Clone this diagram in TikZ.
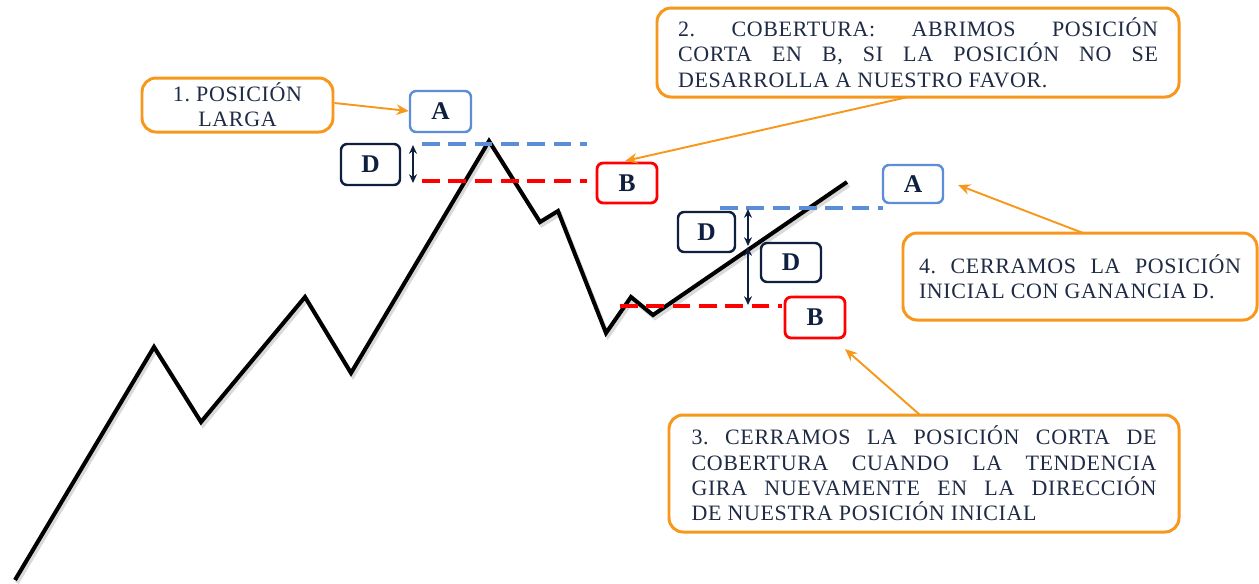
\documentclass[tikz,border=0pt]{standalone}
\usepackage{fontspec}
\setmainfont{Liberation Serif}
\newfontfamily\notefont[LetterSpace=3]{Liberation Serif}
\usetikzlibrary{arrows.meta}
\definecolor{txt}{HTML}{1F2A44}
\definecolor{navy}{HTML}{0F1F3F}
\definecolor{orng}{HTML}{F7981D}
\definecolor{bl}{HTML}{5B8ED6}
\definecolor{rd}{HTML}{FF0000}
\tikzset{
  note/.style={draw=orng, line width=1.7pt, rounded corners=8pt, fill=white, text=txt,
    font=\notefont\fontsize{12.5}{14.4}\selectfont\frenchspacing, inner sep=0pt, align=justify},
  letter/.style={line width=1.4pt, rounded corners=3.5pt, fill=white, text=navy,
    font=\fontsize{14.5}{16}\selectfont\bfseries, inner sep=0pt},
  abox/.style={letter, draw=bl},
  bbox/.style={letter, draw=rd, line width=1.6pt},
  dbox/.style={letter, draw=navy},
  callout/.style={draw=orng, line width=1.1pt, -{Stealth[length=7pt,width=6pt]}},
  price/.style={line width=2.3pt, line join=miter, black},
  bluedash/.style={draw=bl, line width=2.3pt, dash pattern=on 10pt off 5pt},
  reddash/.style={draw=rd, line width=2.3pt, dash pattern=on 10pt off 5pt},
  gap/.style={draw=navy, line width=0.8pt, {Stealth[length=5pt,width=4.5pt]}-{Stealth[length=5pt,width=4.5pt]}}
}
\begin{document}
\begin{tikzpicture}[x=0.02cm,y=-0.02cm]
\useasboundingbox (0,0) rectangle (1259,583);
% price path with subtle shadow
\draw[price, draw=black!25, opacity=0.6, shift={(2,3)}] (15,580) -- (154,347) -- (201,422) -- (305,297) -- (351,373) -- (489,141) -- (540,222) -- (558,211) -- (606,333) -- (631,297) -- (653,315) -- (847,182);
\draw[price] (15,580) -- (154,347) -- (201,422) -- (305,297) -- (351,373) -- (489,141) -- (540,222) -- (558,211) -- (606,333) -- (631,297) -- (653,315) -- (847,182);
% levels
\draw[bluedash] (422,144) -- (587,144);
\draw[reddash] (422,181) -- (587,181);
\draw[bluedash] (720,208) -- (883,208);
\draw[reddash] (620,306) -- (782,306);
% gap arrows
\coordinate (g1t) at (413,145);
\coordinate (g1b) at (413,183);
\coordinate (g2t) at (748,209);
\coordinate (g2b) at (748,246);
\coordinate (g3t) at (748,247);
\coordinate (g3b) at (748,305);
\draw[gap] (g1t) -- (g1b);
\draw[gap] (g2t) -- (g2b);
\draw[gap] (g3t) -- (g3b);
% letter boxes
\node[abox, minimum width=61*0.02cm, minimum height=41*0.02cm] (A1) at (440.5,111.5) {A};
\node[dbox, minimum width=59*0.02cm, minimum height=41*0.02cm] (D1) at (370.5,164.5) {D};
\node[bbox, minimum width=60*0.02cm, minimum height=40*0.02cm] (B1) at (627,183) {B};
\node[abox, minimum width=60*0.02cm, minimum height=38*0.02cm] (A2) at (913,184) {A};
\node[dbox, minimum width=57*0.02cm, minimum height=40*0.02cm] (D2) at (706.5,232) {D};
\node[dbox, minimum width=60*0.02cm, minimum height=39*0.02cm] (D3) at (791,262.5) {D};
\node[bbox, minimum width=60*0.02cm, minimum height=41*0.02cm] (B2) at (815,317.5) {B};
% notes
\node[note, align=center, minimum width=191*0.02cm, minimum height=54*0.02cm] (n1) at (237.5,105) {1. POSICIÓN\\LARGA};
\node[note, minimum width=522*0.02cm, minimum height=89*0.02cm, text width=480*0.02cm] (n2) at (918,52.5)
  {2. COBERTURA: ABRIMOS POSICIÓN\linebreak CORTA EN B, SI LA POSICIÓN NO SE\linebreak DESARROLLA A NUESTRO FAVOR.};
\node[note, minimum width=510*0.02cm, minimum height=117*0.02cm, text width=465*0.02cm] (n3) at (924,473.5)
  {3. CERRAMOS LA POSICIÓN CORTA DE\linebreak COBERTURA CUANDO LA TENDENCIA\linebreak GIRA NUEVAMENTE EN LA DIRECCIÓN\linebreak DE NUESTRA POSICIÓN INICIAL};
\node[note, minimum width=354*0.02cm, minimum height=87*0.02cm, text width=322*0.02cm] (n4) at (1080,276.5)
  {4. CERRAMOS LA POSICIÓN\linebreak INICIAL CON GANANCIA D.};
% callout arrows
\coordinate (c2s) at (908,97);
\coordinate (c2e) at (625,161);
\coordinate (c3s) at (920,415);
\coordinate (c3e) at (845,349);
\coordinate (c4s) at (1083,233);
\coordinate (c4e) at (958,185);
\draw[callout] (n1.east |- 0,103) -- (A1.west |- 0,111);
\draw[callout] (c2s) -- (c2e);
\draw[callout] (c3s) -- (c3e);
\draw[callout] (c4s) -- (c4e);
\end{tikzpicture}
\end{document}
